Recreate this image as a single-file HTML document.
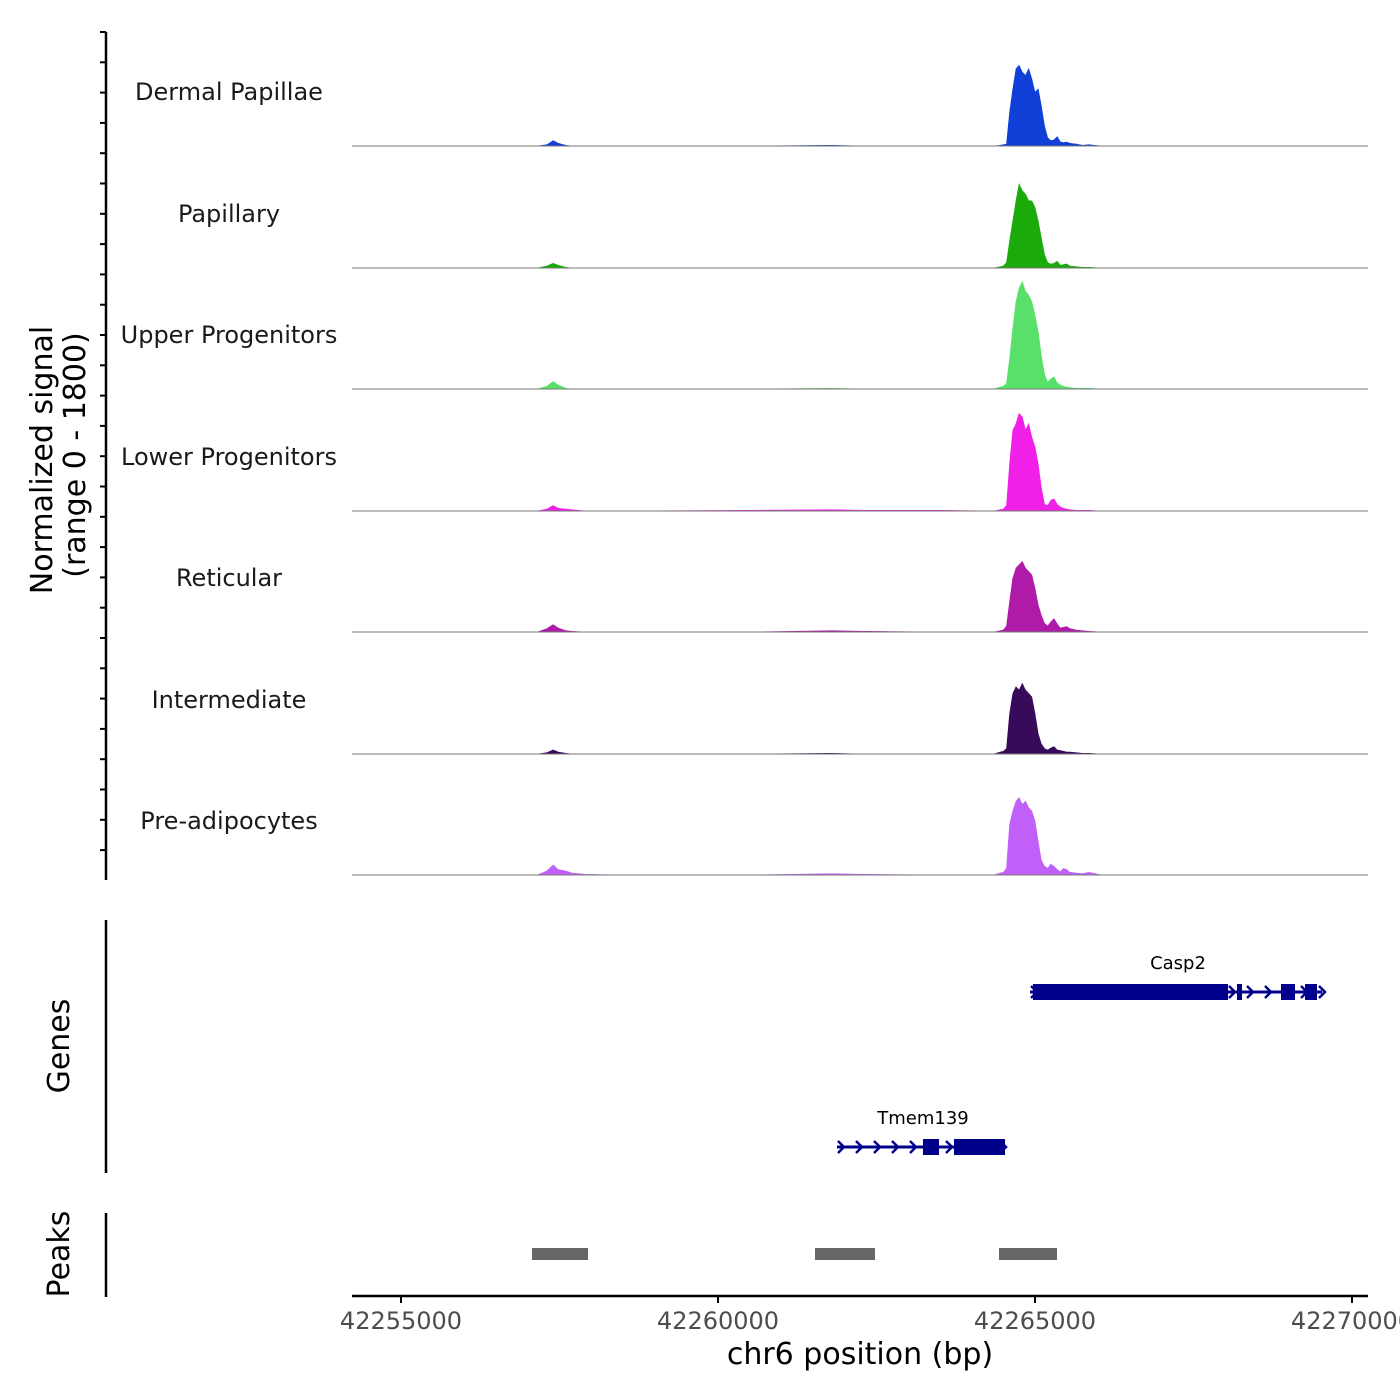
<!DOCTYPE html>
<html><head><meta charset="utf-8"><style>
body{margin:0;background:#fff}
svg{display:block;font-family:"DejaVu Sans","Liberation Sans",sans-serif}
</style></head><body>
<svg id="chart" width="1400" height="1400" viewBox="0 0 1400 1400"></svg>
<script>
const trackNames=["Dermal Papillae","Papillary","Upper Progenitors","Lower Progenitors","Reticular","Intermediate","Pre-adipocytes"];
const trackColors=["#1040d8","#1aaa0a","#58e06a","#f020e8","#b01aa8","#380a5a","#c060f8"];
const positions=[42254300,42257150,42257300,42257400,42257480,42257600,42257700,42257900,42258500,42260500,42261800,42262300,42263500,42264350,42264450,42264500,42264550,42264600,42264650,42264700,42264750,42264800,42264850,42264900,42264950,42265000,42265050,42265100,42265150,42265200,42265250,42265300,42265350,42265400,42265450,42265500,42265550,42265650,42265750,42265850,42266050,42266350,42270200];
const sigDermal=[0,0,20,80,40,10,0,0,0,0,10,0,0,0,10,20,30,500,850,1150,1200,1100,1050,1150,1000,800,850,600,300,120,80,90,140,60,50,60,40,30,10,20,0,0,0];
const sigPapillary=[0,0,30,70,40,10,0,0,0,0,0,0,0,0,20,30,80,400,700,1000,1250,1150,1100,1000,1000,900,700,450,200,80,60,70,100,40,50,60,30,20,10,10,0,0,0];
const sigUpper=[0,0,40,110,60,10,0,0,0,0,10,0,0,0,30,40,80,450,900,1300,1500,1600,1450,1400,1300,1100,850,500,220,100,150,180,90,60,40,30,20,10,10,10,0,0,0];
const sigLower=[0,0,30,80,40,30,20,0,0,10,20,10,10,0,20,30,80,700,1200,1300,1450,1400,1200,1300,1100,950,700,350,100,80,160,180,100,60,40,30,20,10,10,10,0,0,0];
const sigReticular=[0,0,50,110,60,20,10,0,0,0,20,10,0,0,20,30,90,450,800,950,1000,1050,950,900,850,650,400,250,130,90,150,200,120,60,70,80,50,30,20,10,0,0,0];
const sigIntermediate=[0,0,20,60,30,10,0,0,0,0,10,0,0,0,30,40,80,600,900,1000,950,1050,950,900,850,600,300,150,80,60,90,110,60,50,40,30,30,20,10,10,0,0,0];
const sigPreadipo=[0,0,60,150,80,60,30,10,0,0,20,10,0,0,30,40,100,750,950,1100,1150,1050,1100,1000,950,800,500,220,130,100,160,130,80,50,100,80,40,30,20,40,0,0,0];
const signals=[sigDermal,sigPapillary,sigUpper,sigLower,sigReticular,sigIntermediate,sigPreadipo];
const xTicks=[42255000,42260000,42265000,42270000];
const geneNames=["Casp2","Tmem139"];
const geneStart=[42264921,42261877];
const geneEnd=[42269527,42264527];
const geneExons=[[[42264968,42268044],[42268186,42268265],[42268880,42269101],[42269259,42269448]],[[42263233,42263486],[42263722,42264527]]];
const peakStart=[42257066,42261530,42264432];
const peakEnd=[42257950,42262476,42265347];

const NS="http://www.w3.org/2000/svg";
const svg=document.getElementById("chart");
function mk(tag,attrs,parent){const e=document.createElementNS(NS,tag);for(const k in attrs)e.setAttribute(k,attrs[k]);(parent||svg).appendChild(e);return e;}
const xScale=bp=>401+(bp-42255000)*(317/5000);
const trackBase=[146,268,389,511,632,754,875];
const ySig=(v,i)=>trackBase[i]-v*(121/1800);

let ax=mk("line",{x1:106,y1:32,x2:106,y2:880,stroke:"#000","stroke-width":2.5});


for(let y=32;y<=880;y+=30.3){const t=mk("line",{x1:100,y1:y,x2:106,y2:y,stroke:"#000","stroke-width":2});

}
const yt=mk("text",{transform:"translate(52,460) rotate(-90)","text-anchor":"middle","font-size":30,fill:"#000"});


yt.textContent="Normalized signal";
const yt2=mk("text",{transform:"translate(85,455) rotate(-90)","text-anchor":"middle","font-size":30,fill:"#000"});


yt2.textContent="(range 0 - 1800)";

signals.forEach((s,i)=>{
  let d="M"+xScale(positions[0])+","+trackBase[i];
  positions.forEach((p,j)=>{d+=" L"+xScale(p).toFixed(1)+","+ySig(s[j],i).toFixed(1);});
  d+=" L"+xScale(positions[positions.length-1])+","+trackBase[i]+" Z";
  const a=mk("path",{d:d,fill:trackColors[i],stroke:trackColors[i],"stroke-width":0.6});
  
  
  const b=mk("line",{x1:352,y1:trackBase[i],x2:1368,y2:trackBase[i],stroke:"#777","stroke-width":1});
  
  
  const l=mk("text",{x:229,y:trackBase[i]-46,"text-anchor":"middle","font-size":24,fill:"#1a1a1a"});
  
  
  l.textContent=trackNames[i];
});

const ga=mk("line",{x1:106,y1:920,x2:106,y2:1173,stroke:"#000","stroke-width":2.5});


const gt=mk("text",{transform:"translate(69,1046) rotate(-90)","text-anchor":"middle","font-size":30,fill:"#000"});


gt.textContent="Genes";
const geneY=[992,1147];
geneNames.forEach((g,i)=>{
  const y=geneY[i],x1=xScale(geneStart[i]),x2=xScale(geneEnd[i]);
  const ln=mk("line",{x1:x1,y1:y,x2:x2,y2:y,stroke:"#00008b","stroke-width":3});
  
  
  for(let x=x1+4;x<x2;x+=18){const c=mk("path",{d:`M${x-3},${y-6} L${x+3},${y} L${x-3},${y+6}`,fill:"none",stroke:"#00008b","stroke-width":2.5});
  
  }
  geneExons[i].forEach(e=>{const r=mk("rect",{x:xScale(e[0]),y:y-8,width:Math.max(4,xScale(e[1])-xScale(e[0])),height:16,fill:"#00008b"});
  
  });
  const t=mk("text",{x:i==0?1178:923,y:y-23,"text-anchor":"middle","font-size":18,fill:"#000"});
  
  
  t.textContent=g;
});

const pa=mk("line",{x1:106,y1:1213,x2:106,y2:1297,stroke:"#000","stroke-width":2.5});


const pt=mk("text",{transform:"translate(69,1254) rotate(-90)","text-anchor":"middle","font-size":30,fill:"#000"});


pt.textContent="Peaks";
peakStart.forEach((s,i)=>{const r=mk("rect",{x:xScale(s),y:1248,width:xScale(peakEnd[i])-xScale(s),height:12,fill:"#666"});

});

const xa=mk("line",{x1:352,y1:1296,x2:1368,y2:1296,stroke:"#000","stroke-width":2.5});


xTicks.forEach(v=>{const x=xScale(v);
  const t=mk("line",{x1:x,y1:1296,x2:x,y2:1303,stroke:"#000","stroke-width":2});
  
  
  const l=mk("text",{x:x,y:1329,"text-anchor":"middle","font-size":24,fill:"#4d4d4d"});
  
  
  l.textContent=v;});
const xt=mk("text",{x:860,y:1364,"text-anchor":"middle","font-size":30,fill:"#000"});


xt.textContent="chr6 position (bp)";
</script>
</body></html>
